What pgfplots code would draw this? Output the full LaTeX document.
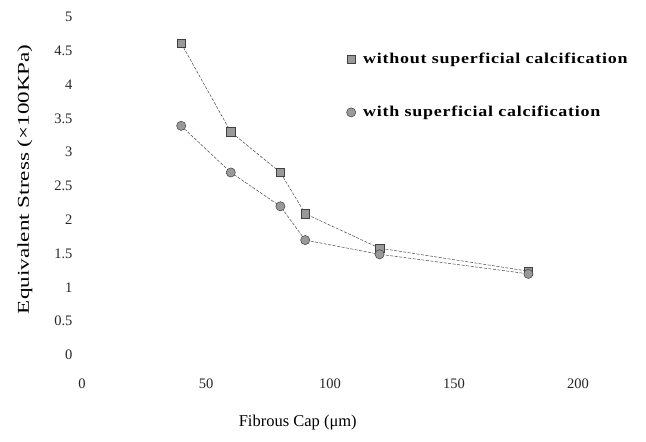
\documentclass[border=0pt]{standalone}
\usepackage{fontspec}
\setmainfont{Liberation Serif}
\newfontfamily\ylabfont[FakeStretch=1.4]{Liberation Serif}
\newfontfamily\legfont[FakeStretch=1.2, LetterSpace=5]{Liberation Serif}
\usepackage{pgfplots}
\pgfplotsset{compat=1.18}
\pgfplotsset{markonlylegend/.style={legend image code/.code={\path[draw=none,fill=none] (0cm,0cm) -- (0.5cm,0cm);\draw[##1, draw=none] plot coordinates {(0.15cm,0cm)};}}}
\begin{document}
\begin{tikzpicture}[x=1pt,y=1pt]
\useasboundingbox (0,0) rectangle (646,442);
\begin{axis}[
  at={(82pt,87pt)}, anchor=origin,
  scale only axis, width=496pt, height=338pt,
  xmin=0, xmax=200, ymin=0, ymax=5,
  xtick={0,50,100,150,200},
  ytick={0,0.5,1,1.5,2,2.5,3,3.5,4,4.5,5},
  yticklabels={0,0.5,1,1.5,2,2.5,3,3.5,4,4.5,5},
  axis line style={draw=none},
  major tick length=0pt,
  /pgf/number format/assume math mode=true,
  ticklabel style={font=\fontsize{14.5}{16}\selectfont, text=black!85},
  xticklabel style={yshift=-20pt},
  yticklabel style={xshift=-6pt},
  xlabel={Fibrous Cap (μm)},
  xlabel style={font=\fontsize{16.5}{18}\selectfont, at={(rel axis cs:0.435,0)}, anchor=north, yshift=-57pt},
  ylabel={\ylabfont Equivalent Stress (×100KPa)},
  ylabel style={font=\fontsize{16.5}{19}\selectfont, at={(rel axis cs:0,0.52)}, anchor=south, yshift=46pt},
  legend style={draw=none, fill=none, at={(rel axis cs:0.527,0.905)}, anchor=north west,
    font=\legfont\bfseries\fontsize{15}{17}\selectfont, row sep=37pt},
  legend cell align=left,
  clip=false,
]
\addplot[gray!55!black, line width=0.5pt, dash pattern={on 3pt off 1.5pt}, mark=square*, mark size=4.2pt,
  mark options={solid, fill=gray!80, draw=black!75}, markonlylegend]
  coordinates {(40,4.61) (60,3.30) (80,2.70) (90,2.09) (120,1.58) (180,1.24)};
\addlegendentry{without superficial calcification}
\addplot[gray!55!black, line width=0.5pt, dash pattern={on 3pt off 1.5pt}, mark=*, mark size=4.6pt,
  mark options={solid, fill=gray!80, draw=black!75}, markonlylegend]
  coordinates {(40,3.39) (60,2.70) (80,2.20) (90,1.70) (120,1.49) (180,1.20)};
\addlegendentry{with superficial calcification}
\end{axis}
\end{tikzpicture}
\end{document}
